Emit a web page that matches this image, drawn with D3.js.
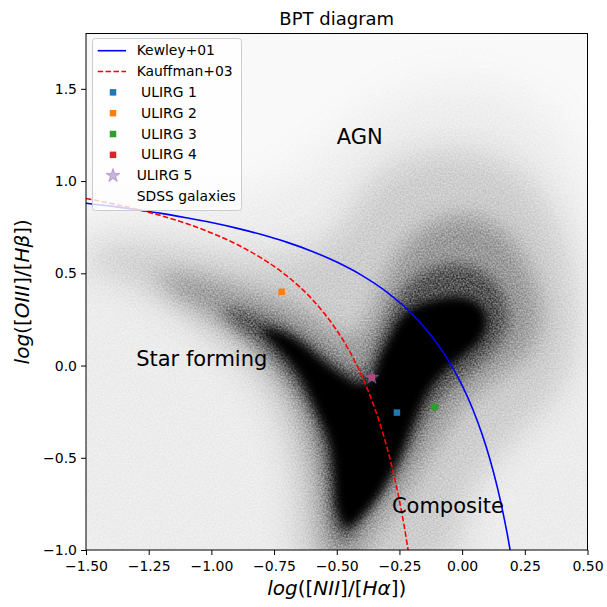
<!DOCTYPE html>
<html>
<head>
<meta charset="utf-8">
<script src="https://cdn.jsdelivr.net/npm/d3@7"></script>
<style>
  body { margin: 0; background: #fff; }
  text { font-family: "DejaVu Sans", sans-serif; fill: #000; }
</style>
</head>
<body>
<div id="chart"></div>
<script>
// demarcation lines, values
const kewleyX = [-1.5, -1.4, -1.3, -1.2, -1.1, -1.0, -0.9, -0.8, -0.7, -0.6, -0.5, -0.4, -0.3, -0.2, -0.15, -0.1, -0.05, 0.0, 0.04, 0.08, 0.11, 0.14, 0.16, 0.18, 0.195];
const kewleyY = [0.880, 0.864, 0.845, 0.825, 0.801, 0.775, 0.745, 0.710, 0.669, 0.620, 0.561, 0.489, 0.398, 0.280, 0.206, 0.120, 0.017, -0.108, -0.229, -0.374, -0.504, -0.658, -0.778, -0.913, -1.028];
const kauffX = [-1.5, -1.4, -1.3, -1.2, -1.1, -1.0, -0.9, -0.8, -0.75, -0.7, -0.65, -0.6, -0.55, -0.5, -0.45, -0.4, -0.35, -0.3, -0.27, -0.25, -0.23, -0.21];
const kauffY = [0.906, 0.879, 0.848, 0.812, 0.770, 0.719, 0.658, 0.582, 0.538, 0.487, 0.429, 0.362, 0.283, 0.191, 0.080, -0.056, -0.225, -0.443, -0.606, -0.733, -0.879, -1.046];

// ULIRG sources
const ulirgNames = [" ULIRG 1", " ULIRG 2", " ULIRG 3", " ULIRG 4"];
const ulirgX = [-0.26, -0.72, -0.11, -0.36];
const ulirgY = [-0.255, 0.40, -0.225, -0.065];
const ulirg5X = [-0.36];
const ulirg5Y = [-0.065];

// SDSS galaxy cloud, traced as density contours (outer -> core)
const sdssHaze = [[-1.56,0.82],[-1.30,0.86],[-1.00,0.90],[-0.72,0.98],[-0.52,1.18],[-0.32,1.40],[0.00,1.52],[0.28,1.42],[0.46,1.10],[0.56,0.70],[0.58,0.30],[0.58,-1.06],[-1.56,-1.06]];
const sdssOuter = [[-1.48,0.62],[-1.32,0.66],[-1.15,0.64],[-1.00,0.61],[-0.85,0.58],[-0.70,0.60],[-0.56,0.66],[-0.46,0.80],[-0.38,0.97],[-0.22,1.12],[0.02,1.16],[0.22,1.06],[0.36,0.82],[0.44,0.48],[0.45,0.12],[0.38,-0.14],[0.25,-0.34],[0.12,-0.52],[0.02,-0.74],[-0.05,-1.06],[-0.64,-1.06],[-0.67,-0.72],[-0.70,-0.46],[-0.75,-0.26],[-0.82,-0.09],[-0.93,0.07],[-1.06,0.21],[-1.20,0.35],[-1.36,0.47],[-1.50,0.55]];
const sdssMid = [[-1.22,0.48],[-1.10,0.49],[-0.97,0.45],[-0.85,0.40],[-0.74,0.35],[-0.63,0.29],[-0.54,0.21],[-0.46,0.15],[-0.40,0.19],[-0.35,0.31],[-0.31,0.46],[-0.24,0.63],[-0.12,0.77],[0.03,0.81],[0.17,0.72],[0.27,0.51],[0.31,0.27],[0.26,0.07],[0.13,-0.07],[0.02,-0.19],[-0.06,-0.33],[-0.14,-0.50],[-0.22,-0.67],[-0.31,-0.84],[-0.38,-0.97],[-0.42,-1.06],[-0.54,-1.06],[-0.57,-0.85],[-0.59,-0.62],[-0.62,-0.42],[-0.66,-0.25],[-0.72,-0.10],[-0.80,0.04],[-0.90,0.16],[-1.02,0.28],[-1.14,0.38]];
const sdssInner = [[-0.96,0.30],[-0.88,0.30],[-0.79,0.26],[-0.70,0.21],[-0.60,0.12],[-0.51,0.03],[-0.43,-0.03],[-0.38,-0.01],[-0.35,0.09],[-0.31,0.22],[-0.26,0.36],[-0.18,0.48],[-0.05,0.55],[0.08,0.51],[0.16,0.39],[0.18,0.22],[0.12,0.08],[0.03,-0.03],[-0.06,-0.13],[-0.14,-0.27],[-0.21,-0.46],[-0.29,-0.64],[-0.37,-0.79],[-0.44,-0.92],[-0.48,-0.95],[-0.52,-0.85],[-0.54,-0.63],[-0.56,-0.44],[-0.61,-0.25],[-0.67,-0.11],[-0.73,0.00],[-0.81,0.11],[-0.90,0.21]];
const sdssCore = [[-0.80,0.20],[-0.72,0.18],[-0.64,0.12],[-0.56,0.03],[-0.48,-0.05],[-0.41,-0.10],[-0.36,-0.07],[-0.33,0.04],[-0.29,0.15],[-0.25,0.25],[-0.19,0.32],[-0.10,0.36],[0.00,0.37],[0.07,0.33],[0.10,0.25],[0.08,0.15],[0.02,0.07],[-0.06,-0.02],[-0.13,-0.13],[-0.19,-0.30],[-0.26,-0.53],[-0.34,-0.72],[-0.41,-0.83],[-0.46,-0.88],[-0.50,-0.78],[-0.51,-0.62],[-0.53,-0.42],[-0.59,-0.22],[-0.64,-0.08],[-0.69,0.02],[-0.75,0.11]];

const xTicks = [-1.5, -1.25, -1.0, -0.75, -0.5, -0.25, 0.0, 0.25, 0.5];
const yTicks = [-1.0, -0.5, 0.0, 0.5, 1.0, 1.5];

const regionLabels = ["AGN", "Star forming", "Composite"];
const regionX = [-0.5, -1.3, -0.28];
const regionY = [1.2, 0.0, -0.8];

// ---- layout ----
const W = 607, H = 607;
const plot = {left: 86, right: 587.5, top: 33.5, bottom: 550};
const colors = ["#1f77b4", "#ff7f0e", "#2ca02c", "#d62728"];

const x = d3.scaleLinear().domain([-1.5, 0.5]).range([plot.left, plot.right]);
const y = d3.scaleLinear().domain([-1.0, 1.8]).range([plot.bottom, plot.top]);

const svg = d3.select("#chart").append("svg")
  .attr("width", W).attr("height", H);

const defs = svg.append("defs");
defs.append("clipPath").attr("id", "plotclip")
  .append("rect")
  .attr("x", plot.left).attr("y", plot.top)
  .attr("width", plot.right - plot.left).attr("height", plot.bottom - plot.top);

// cloud layers: opacity and blur per contour level
const cloudLayers = [
  {pts: sdssHaze, opacity: 0.05, blur: 24},
  {pts: sdssOuter, opacity: 0.13, blur: 16},
  {pts: sdssMid, opacity: 0.25, blur: 11},
  {pts: sdssInner, opacity: 0.45, blur: 7},
  {pts: sdssCore, opacity: 1.0, blur: 5}
];

cloudLayers.forEach((l, i) => {
  defs.append("filter").attr("id", "blur" + i)
    .attr("filterUnits", "userSpaceOnUse")
    .attr("x", 0).attr("y", 0).attr("width", W).attr("height", H)
    .append("feGaussianBlur").attr("stdDeviation", l.blur);
});

// grainy look of a dense scatter: modulate the halo alpha with a fine texture
const grain = defs.append("filter").attr("id", "grain")
  .attr("filterUnits", "userSpaceOnUse")
  .attr("x", 0).attr("y", 0).attr("width", W).attr("height", H)
  .attr("color-interpolation-filters", "sRGB");
grain.append("feTurbulence").attr("type", "fractalNoise")
  .attr("baseFrequency", 0.6).attr("numOctaves", 1).attr("seed", 7).attr("result", "noise");
grain.append("feColorMatrix").attr("in", "noise").attr("type", "matrix")
  .attr("values", "0 0 0 0 0  0 0 0 0 0  0 0 0 0 0  1.6 0 0 0 -0.3").attr("result", "na");
grain.append("feComposite").attr("in", "SourceGraphic").attr("in2", "na")
  .attr("operator", "arithmetic").attr("k1", 0.7).attr("k2", 0.65).attr("k3", 0).attr("k4", 0);

const g = svg.append("g").attr("clip-path", "url(#plotclip)");
const cloud = g.append("g").attr("filter", "url(#grain)");

// faint overall background of the scatter
cloud.append("rect")
  .attr("x", plot.left).attr("y", plot.top)
  .attr("width", plot.right - plot.left).attr("height", plot.bottom - plot.top)
  .attr("fill", "#000").attr("fill-opacity", 0.025);

const contour = d3.line()
  .x(d => x(d[0])).y(d => y(d[1]))
  .curve(d3.curveCatmullRomClosed.alpha(0.5));

cloudLayers.forEach((l, i) => {
  // the saturated core is drawn solid, outside the grain
  const parent = i === cloudLayers.length - 1 ? g : cloud;
  parent.append("path")
    .attr("d", contour(l.pts))
    .attr("fill", "#000")
    .attr("fill-opacity", l.opacity)
    .attr("filter", `url(#blur${i})`);
});

// demarcation curves
const curve = d3.line()
  .x(d => x(d[0])).y(d => y(d[1]))
  .curve(d3.curveMonotoneX);

g.append("path")
  .attr("d", curve(d3.zip(kewleyX, kewleyY)))
  .attr("fill", "none").attr("stroke", "#0000ff").attr("stroke-width", 1.6);

g.append("path")
  .attr("d", curve(d3.zip(kauffX, kauffY)))
  .attr("fill", "none").attr("stroke", "#ff0000").attr("stroke-width", 1.6)
  .attr("stroke-dasharray", "5.5,2.4");

// ULIRG markers
const sq = 6.5;
ulirgX.forEach((v, i) => {
  g.append("rect")
    .attr("x", x(v) - sq / 2).attr("y", y(ulirgY[i]) - sq / 2)
    .attr("width", sq).attr("height", sq)
    .attr("fill", colors[i]);
});

const star = d3.symbol().type(d3.symbolStar).size(58);
ulirg5X.forEach((v, i) => {
  g.append("path")
    .attr("d", star())
    .attr("transform", `translate(${x(v)},${y(ulirg5Y[i])})`)
    .attr("fill", "#9467bd").attr("fill-opacity", 0.5)
    .attr("stroke", "#9467bd").attr("stroke-opacity", 0.5).attr("stroke-width", 1);
});

// region labels
regionLabels.forEach((t, i) => {
  svg.append("text")
    .attr("x", x(regionX[i])).attr("y", y(regionY[i]))
    .attr("font-size", 21)
    .text(t);
});

// frame
svg.append("rect")
  .attr("x", plot.left).attr("y", plot.top)
  .attr("width", plot.right - plot.left).attr("height", plot.bottom - plot.top)
  .attr("fill", "none").attr("stroke", "#000").attr("stroke-width", 1);

// axes
const xAxis = d3.axisBottom(x).tickValues(xTicks).tickSize(5).tickSizeOuter(0).tickPadding(6)
  .tickFormat(d3.format(".2f"));
const yAxis = d3.axisLeft(y).tickValues(yTicks).tickSize(5).tickSizeOuter(0).tickPadding(4)
  .tickFormat(d3.format(".1f"));

const gx = svg.append("g").attr("transform", `translate(0,${plot.bottom})`).call(xAxis);
const gy = svg.append("g").attr("transform", `translate(${plot.left},0)`).call(yAxis);
[gx, gy].forEach(a => {
  a.select(".domain").remove();
  a.selectAll("text").attr("font-size", 14).attr("font-family", "DejaVu Sans").attr("fill", "#000");
  a.selectAll("line").attr("stroke", "#000");
});

// title
svg.append("text")
  .attr("x", (plot.left + plot.right) / 2).attr("y", 25)
  .attr("text-anchor", "middle").attr("font-size", 18)
  .text("BPT diagram");

// axis labels (mathtext style: italic letters, upright brackets)
function mathLabel(sel, parts) {
  parts.forEach(p => {
    sel.append("tspan").attr("font-style", p[1] ? "italic" : "normal").text(p[0]);
  });
}
const xl = svg.append("text")
  .attr("x", (plot.left + plot.right) / 2).attr("y", 595)
  .attr("text-anchor", "middle").attr("font-size", 20);
mathLabel(xl, [["log", 1], ["([", 0], ["NII", 1], ["]/[", 0], ["Hα", 1], ["])", 0]]);

const yl = svg.append("text")
  .attr("transform", `translate(29,${(plot.top + plot.bottom) / 2}) rotate(-90)`)
  .attr("text-anchor", "middle").attr("font-size", 20);
mathLabel(yl, [["log", 1], ["([", 0], ["OIII", 1], ["]/[", 0], ["Hβ", 1], ["])", 0]]);

// legend
const leg = svg.append("g");
leg.append("rect")
  .attr("x", 92.5).attr("y", 38.5).attr("width", 149).attr("height", 172).attr("rx", 3)
  .attr("fill", "#fff").attr("fill-opacity", 0.8)
  .attr("stroke", "#cccccc").attr("stroke-width", 1);

const rowY = i => 50.7 + i * 20.83;
const legFont = 13.9;
const textX = 136.7;

leg.append("line").attr("x1", 97.7).attr("x2", 126).attr("y1", rowY(0)).attr("y2", rowY(0))
  .attr("stroke", "#0000ff").attr("stroke-width", 1.6);
leg.append("text").attr("x", textX).attr("y", rowY(0) + 4.6).attr("font-size", legFont).text("Kewley+01");

leg.append("line").attr("x1", 97.7).attr("x2", 126).attr("y1", rowY(1)).attr("y2", rowY(1))
  .attr("stroke", "#ff0000").attr("stroke-width", 1.6).attr("stroke-dasharray", "5.5,2.4");
leg.append("text").attr("x", textX).attr("y", rowY(1) + 4.6).attr("font-size", legFont).text("Kauffman+03");

ulirgNames.forEach((n, i) => {
  const ry = rowY(i + 2);
  leg.append("rect").attr("x", 113 - sq / 2).attr("y", ry - sq / 2)
    .attr("width", sq).attr("height", sq).attr("fill", colors[i]);
  leg.append("text").attr("x", textX).attr("y", ry + 4.6).attr("font-size", legFont)
    .style("white-space", "pre").text(n);
});

leg.append("path").attr("d", star())
  .attr("transform", `translate(113,${rowY(6)})`)
  .attr("fill", "#9467bd").attr("fill-opacity", 0.5)
  .attr("stroke", "#9467bd").attr("stroke-opacity", 0.5).attr("stroke-width", 1);
leg.append("text").attr("x", textX).attr("y", rowY(6) + 4.6).attr("font-size", legFont).text("ULIRG 5");

leg.append("text").attr("x", textX).attr("y", rowY(7) + 4.6).attr("font-size", legFont).text("SDSS galaxies");
</script>
</body>
</html>
